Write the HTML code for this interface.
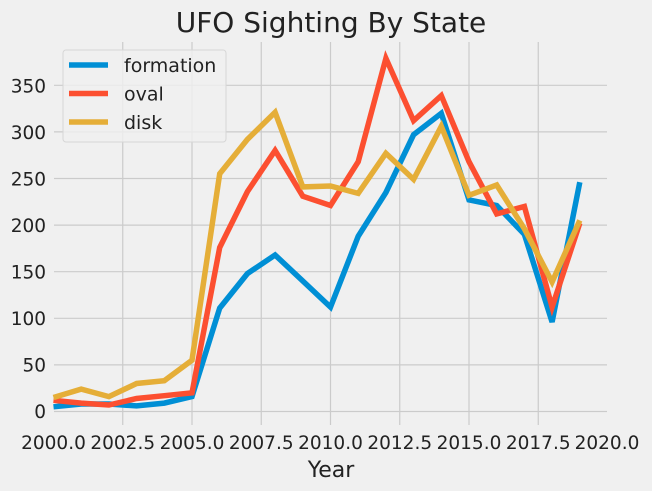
<!DOCTYPE html>
<html><head><style>
html,body{margin:0;padding:0;background:#f0f0f0;}
svg{display:block;font-family:"DejaVu Sans","Liberation Sans",sans-serif;}
</style></head><body>
<svg width="652" height="491" viewBox="0 0 652 491" xmlns="http://www.w3.org/2000/svg">
<rect width="652" height="491" fill="#f0f0f0"/>
<g stroke="#cbcbcb" stroke-width="1.2">
<line x1="122.75" y1="42" x2="122.75" y2="425"/>
<line x1="192" y1="42" x2="192" y2="425"/>
<line x1="261.25" y1="42" x2="261.25" y2="425"/>
<line x1="330.5" y1="42" x2="330.5" y2="425"/>
<line x1="399.75" y1="42" x2="399.75" y2="425"/>
<line x1="469" y1="42" x2="469" y2="425"/>
<line x1="538.25" y1="42" x2="538.25" y2="425"/>
<line x1="54" y1="411.5" x2="607" y2="411.5"/>
<line x1="54" y1="364.9" x2="607" y2="364.9"/>
<line x1="54" y1="318.3" x2="607" y2="318.3"/>
<line x1="54" y1="271.7" x2="607" y2="271.7"/>
<line x1="54" y1="225.1" x2="607" y2="225.1"/>
<line x1="54" y1="178.5" x2="607" y2="178.5"/>
<line x1="54" y1="131.9" x2="607" y2="131.9"/>
<line x1="54" y1="85.3" x2="607" y2="85.3"/>
</g>
<g fill="none" stroke-width="5.5" stroke-linejoin="miter" stroke-linecap="butt">
<polyline stroke="#008fd5" points="53.5,406.8 81.2,404.0 108.9,404.0 136.6,405.9 164.3,403.1 192,396.6 219.7,308.1 247.4,273.6 275.1,255.0 302.8,281.0 330.5,307.1 358.2,236.3 385.9,192.5 413.6,134.7 441.3,113.3 469,199.9 496.7,205.5 524.4,234.4 552.1,322.0 579.8,182.2"/>
<polyline stroke="#fc4f30" points="53.5,400.3 81.2,403.1 108.9,405.0 136.6,398.5 164.3,395.7 192,392.9 219.7,247.5 247.4,191.6 275.1,150.5 302.8,196.2 330.5,205.5 358.2,161.7 385.9,58.3 413.6,120.7 441.3,95.6 469,161.7 496.7,213.9 524.4,206.5 552.1,307.1 579.8,223.2"/>
<polyline stroke="#e5ae38" points="53.5,397.5 81.2,389.1 108.9,396.6 136.6,383.5 164.3,380.7 192,360.2 219.7,173.8 247.4,139.4 275.1,112.3 302.8,186.9 330.5,186.0 358.2,193.4 385.9,153.3 413.6,179.4 441.3,126.3 469,195.3 496.7,185.0 524.4,228.8 552.1,282.0 579.8,220.4"/>
</g>
<g font-size="18.5" fill="#222" text-anchor="end">
<text x="46" y="418">0</text>
<text x="46" y="371.5">50</text>
<text x="46" y="325">100</text>
<text x="46" y="278.5">150</text>
<text x="46" y="232">200</text>
<text x="46" y="185.5">250</text>
<text x="46" y="139">300</text>
<text x="46" y="92.5">350</text>
</g>
<g font-size="18.5" fill="#222" text-anchor="middle">
<text x="53.5" y="449">2000.0</text>
<text x="122.75" y="449">2002.5</text>
<text x="192" y="449">2005.0</text>
<text x="261.25" y="449">2007.5</text>
<text x="330.5" y="449">2010.0</text>
<text x="399.75" y="449">2012.5</text>
<text x="469" y="449">2015.0</text>
<text x="538.25" y="449">2017.5</text>
<text x="607" y="449">2020.0</text>
</g>
<text x="331" y="477" font-size="22" fill="#222" text-anchor="middle">Year</text>
<text x="331" y="32" font-size="28" fill="#222" text-anchor="middle">UFO Sighting By State</text>
<rect x="63" y="50" width="163" height="92" rx="3" fill="#f0f0f0" fill-opacity="0.8" stroke="#d6d6d6" stroke-width="1"/>
<g stroke-width="5.5">
<line x1="69" y1="65" x2="108" y2="65" stroke="#008fd5"/>
<line x1="69" y1="93.5" x2="108" y2="93.5" stroke="#fc4f30"/>
<line x1="69" y1="122" x2="108" y2="122" stroke="#e5ae38"/>
</g>
<g font-size="19" fill="#222">
<text x="124" y="72">formation</text>
<text x="124" y="100.5">oval</text>
<text x="124" y="129">disk</text>
</g>
</svg>
</body></html>
